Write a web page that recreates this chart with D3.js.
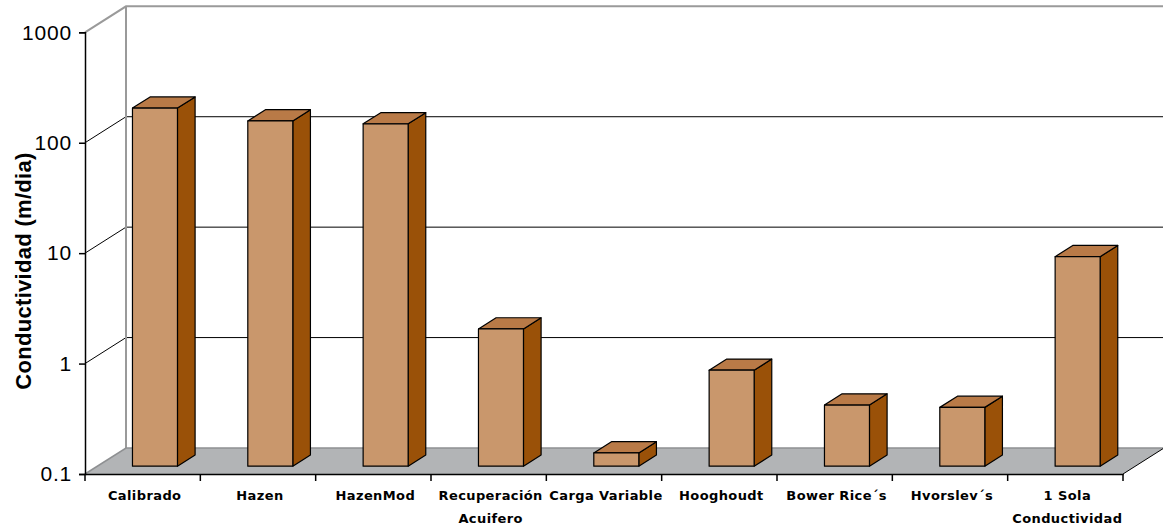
<!DOCTYPE html>
<html>
<head>
<meta charset="utf-8">
<script src="https://cdn.jsdelivr.net/npm/d3@7"></script>
<style>
  html, body { margin: 0; padding: 0; background: #fff; }
  svg { display: block; }
</style>
</head>
<body>
<svg id="chart" width="1163" height="532"></svg>
<script>
// Hydraulic conductivity estimates by method (m/dia), log scale
const categories = ["Calibrado", "Hazen", "HazenMod", "Recuperación\nAcuifero", "Carga Variable",
                    "Hooghoudt", "Bower Rice´s", "Hvorslev´s", "1 Sola\nConductividad"];
const conductividad = [175, 134, 126, 1.75, 0.132, 0.74, 0.358, 0.341, 7.9];
const tickValues = [0.1, 1, 10, 100, 1000];
const tickLabels = ["0.1", "1", "10", "100", "1000"];
const axisTitle = "Conductividad (m/dia)";

const svg = d3.select("#chart");

// front plane geometry and depth offset (oblique projection)
const plotLeft = 85, plotRight = 1123, plotBottom = 474, plotTop = 32.3;
const depthX = 41, depthY = -26;
const barDepth0 = 0.3, barDepth1 = 0.73;

const x = d3.scaleBand().domain(categories).range([plotLeft, plotRight]).paddingInner(0).paddingOuter(0);
const y = d3.scaleLog().domain([0.1, 1000]).range([plotBottom, plotTop]);
const barW = 45;

const P = (px, py, d) => [px + depthX * d, py + depthY * d];
const poly = pts => "M" + pts.map(p => p.join(",")).join("L") + "Z";

// walls
const wallFill = "#ffffff";
svg.append("path")
  .attr("d", poly([P(plotLeft, plotBottom, 0), P(plotLeft, plotTop, 0), P(plotLeft, plotTop, 1), P(plotLeft, plotBottom, 1)]))
  .attr("fill", wallFill);
svg.append("path")
  .attr("d", poly([P(plotLeft, plotBottom, 1), P(plotLeft, plotTop, 1), P(plotRight, plotTop, 1), P(plotRight, plotBottom, 1)]))
  .attr("fill", wallFill);

// grid lines on back wall and side wall
const gridVals = tickValues.filter(v => v > 0.1 && v < 1000);
gridVals.forEach(v => {
  const yy = y(v);
  svg.append("path")
    .attr("d", "M" + P(plotLeft, yy, 0) + "L" + P(plotLeft, yy, 1) + "L" + P(plotRight, yy, 1))
    .attr("fill", "none").attr("stroke", "#000").attr("stroke-width", 1);
});

// wall outline
svg.append("path")
  .attr("d", "M" + P(plotLeft, plotTop, 0) + "L" + P(plotLeft, plotTop, 1) + "L" + P(plotRight, plotTop, 1))
  .attr("fill", "none").attr("stroke", "#9a9a9a").attr("stroke-width", 2);
svg.append("path")
  .attr("d", "M" + P(plotLeft, plotTop, 1) + "L" + P(plotLeft, plotBottom, 1))
  .attr("fill", "none").attr("stroke", "#9a9a9a").attr("stroke-width", 2);

// floor
svg.append("path")
  .attr("d", poly([P(plotLeft, plotBottom, 0), P(plotLeft, plotBottom, 1), P(plotRight, plotBottom, 1), P(plotRight, plotBottom, 0)]))
  .attr("fill", "#b2b4b6");
svg.append("path")
  .attr("d", "M" + P(plotLeft, plotBottom, 0) + "L" + P(plotLeft, plotBottom, 1) + "L" + P(plotRight, plotBottom, 1))
  .attr("fill", "none").attr("stroke", "#8e9092").attr("stroke-width", 1.5);
svg.append("path")
  .attr("d", "M" + P(plotRight, plotBottom, 1) + "L" + P(plotRight, plotBottom, 0))
  .attr("fill", "none").attr("stroke", "#000").attr("stroke-width", 1);

// bars
const frontFill = "#c9976c", topFill = "#b97a47", sideFill = "#9a5108";
const gBars = svg.append("g");
categories.forEach((c, i) => {
  const v = conductividad[i];
  const x0 = x(c) + (x.bandwidth() - barW) / 2;
  const x1 = x0 + barW;
  const yt = y(v), yb = y(0.1);
  const g = gBars.append("g").attr("stroke", "#000").attr("stroke-width", 1.2).attr("stroke-linejoin", "round");
  // side face
  g.append("path").attr("fill", sideFill)
    .attr("d", poly([P(x1, yb, barDepth0), P(x1, yt, barDepth0), P(x1, yt, barDepth1), P(x1, yb, barDepth1)]));
  // top face
  g.append("path").attr("fill", topFill)
    .attr("d", poly([P(x0, yt, barDepth0), P(x0, yt, barDepth1), P(x1, yt, barDepth1), P(x1, yt, barDepth0)]));
  // front face
  g.append("path").attr("fill", frontFill)
    .attr("d", poly([P(x0, yb, barDepth0), P(x0, yt, barDepth0), P(x1, yt, barDepth0), P(x1, yb, barDepth0)]));
});

// value axis (front left)
const yAxis = d3.axisLeft(y).tickValues(tickValues).tickFormat((d, i) => tickLabels[i]).tickSize(6).tickPadding(7);
const gy = svg.append("g").attr("transform", `translate(${plotLeft},0)`).call(yAxis);
gy.select(".domain").attr("stroke", "#000").attr("stroke-width", 1.5);
gy.selectAll(".tick line").attr("stroke", "#000").attr("stroke-width", 1.5);
gy.selectAll(".tick text").attr("font-family", "'Liberation Sans', Arial, sans-serif")
  .attr("font-size", 21).attr("letter-spacing", 0.8).attr("fill", "#000");

// category axis (front floor edge)
const xAxis = d3.axisBottom(x).tickSize(0).tickFormat("");
const gx = svg.append("g").attr("transform", `translate(0,${plotBottom})`).call(xAxis);
gx.select(".domain").attr("stroke", "#000").attr("stroke-width", 1.5);
gx.selectAll(".tick").remove();
const boundaries = categories.map(c => x(c)).concat([plotRight]);
gx.selectAll("line.sep").data(boundaries).join("line").attr("class", "sep")
  .attr("x1", d => d).attr("x2", d => d).attr("y1", 0).attr("y2", 7)
  .attr("stroke", "#000").attr("stroke-width", 1.5);
gx.selectAll("text.cat").data(categories).join("text").attr("class", "cat")
  .attr("x", d => x(d) + x.bandwidth() / 2 + 2)
  .attr("y", 26)
  .attr("text-anchor", "middle")
  .attr("font-family", "'DejaVu Sans', Verdana, sans-serif")
  .attr("font-weight", "bold").attr("font-size", 13).attr("letter-spacing", 0.4).attr("fill", "#000")
  .each(function(d) {
    const lines = d.split("\n");
    d3.select(this).selectAll("tspan").data(lines).join("tspan")
      .attr("x", x(d) + x.bandwidth() / 2 + 2)
      .attr("dy", (l, k) => k === 0 ? 0 : 23)
      .text(l => l);
  });

// axis title
svg.append("text")
  .attr("transform", "translate(31,271) rotate(-90)")
  .attr("text-anchor", "middle")
  .attr("font-family", "'Liberation Sans', Arial, sans-serif")
  .attr("font-weight", "bold").attr("font-size", 22).attr("letter-spacing", 0.3).attr("fill", "#000")
  .text(axisTitle);
</script>
</body>
</html>
